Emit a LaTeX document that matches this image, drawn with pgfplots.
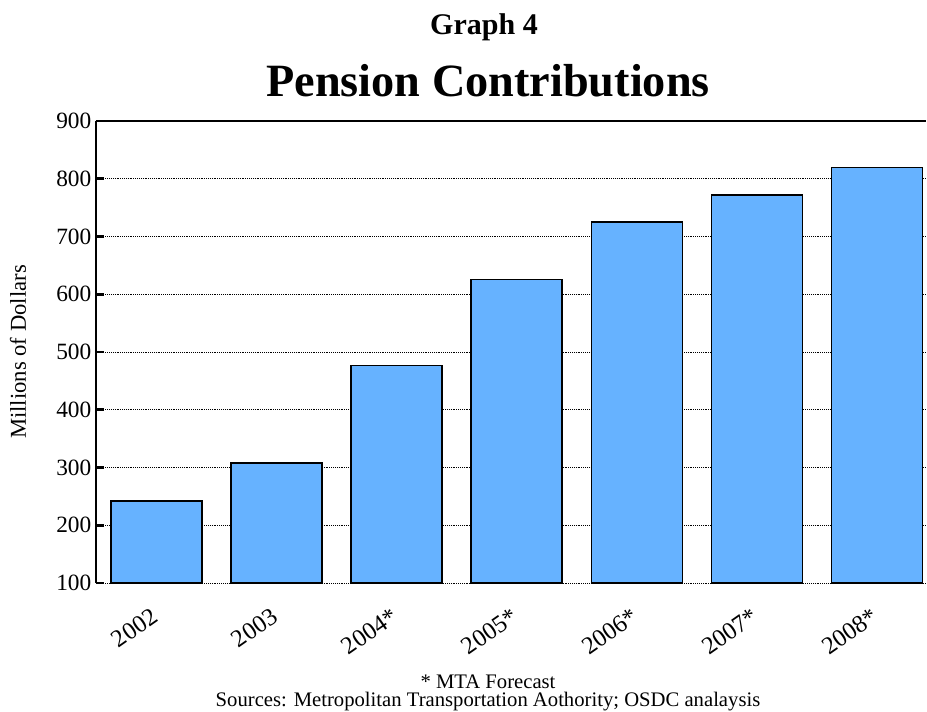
\documentclass[border=0pt]{standalone}
\usepackage{pgfplots}
\pgfplotsset{compat=1.18}
\usepackage{fontspec}
\setmainfont{Liberation Serif}
\definecolor{barblue}{RGB}{102,178,255}
\begin{document}
\begin{tikzpicture}
\begin{axis}[
  scale only axis,
  width=622.5pt, height=346.5pt,
  ymin=100, ymax=900,
  ytick={100,200,...,900},
  xmin=-0.504, xmax=6.41,
  xtick=data,
  xticklabels={{\rmfamily 2002},{\rmfamily 2003},{\rmfamily 2004*},{\rmfamily 2005*},{\rmfamily 2006*},{\rmfamily 2007*},{\rmfamily 2008*}},
  ybar, bar width=68.25pt,
  axis x line*=bottom,
  x axis line style={draw=none},
  xtick style={draw=none},
  axis y line*=left,
  y axis line style={line width=1.2pt, -},
  ytick style={line width=2.2pt, black},
  major tick length=6pt,
  ymajorgrids,
  grid style={densely dotted, black, line width=0.6pt},
  tick label style={font=\fontsize{17.5}{20}\selectfont},
  /pgf/number format/assume math mode=true,
  xticklabel style={rotate=35, anchor=north east, inner sep=0pt, xshift=-10.5pt, yshift=-6.5pt, font=\rmfamily\fontsize{18.5}{20}\selectfont},
  clip=false,
]
\addplot[fill=barblue, draw=black, line width=1pt] coordinates {
  (0,242) (1,308) (2,477) (3,626) (4,725) (5,772) (6,819)
};
\draw[black, line width=1.2pt] (axis cs:-0.504,900) -- (axis cs:6.41,900);
\end{axis}
\node[rotate=90, font=\fontsize{17}{19}\selectfont] at (-58.5pt,173.25pt) {Millions of Dollars};
\node[anchor=base, font=\bfseries\fontsize{34.7}{38}\selectfont] at (294pt,364.5pt) {Pension Contributions};
\node[anchor=base, font=\bfseries\fontsize{22.5}{25}\selectfont] at (291pt,411pt) {Graph 4};
\node[anchor=base, font=\fontsize{15.5}{17}\selectfont] at (294pt,-79.5pt) {* MTA Forecast};
\node[anchor=base, font=\fontsize{15.5}{17}\selectfont] at (294pt,-93pt) {Sources: Metropolitan Transportation Aothority; OSDC analaysis};
\pgfresetboundingbox
\path (-72pt,-96.75pt) rectangle (623.25pt,437.25pt);
\end{tikzpicture}
\end{document}
